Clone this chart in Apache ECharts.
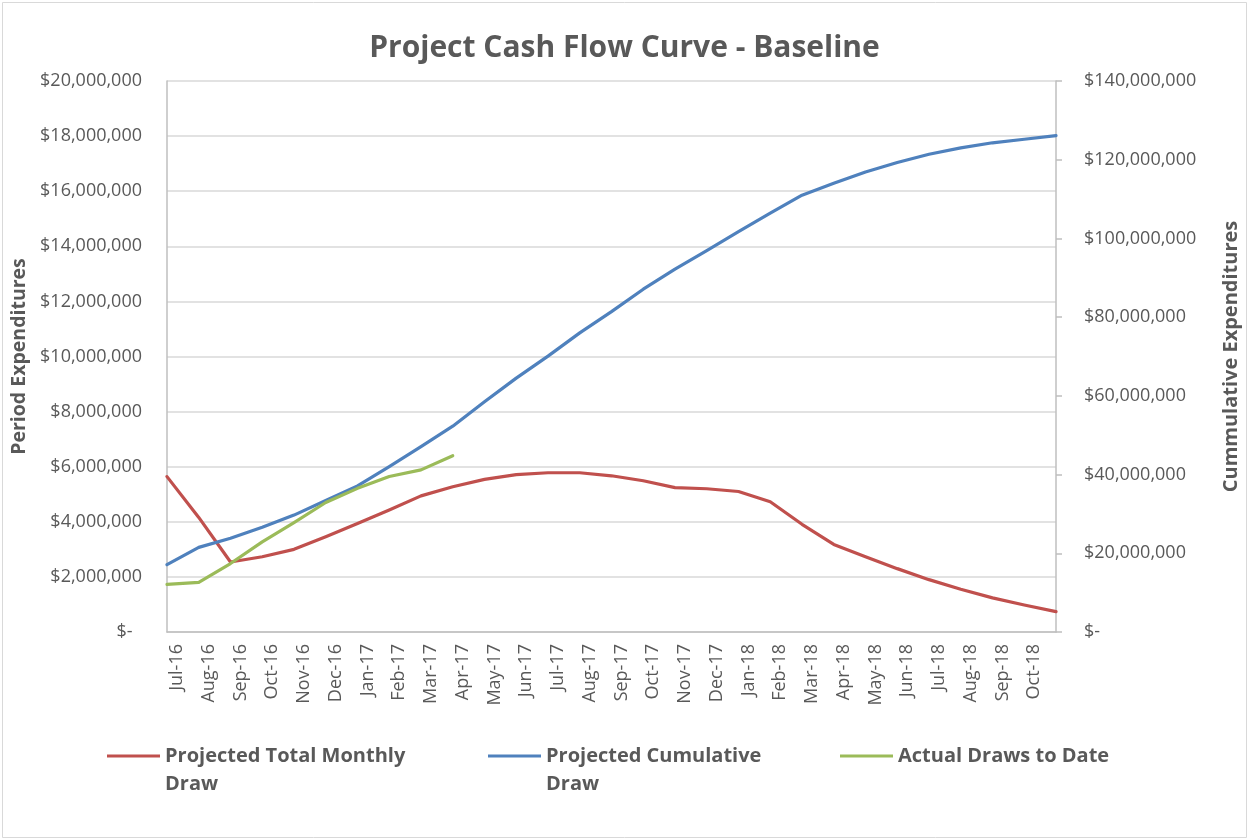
<!DOCTYPE html>
<html>
<head>
<meta charset="utf-8">
<script src="https://cdn.jsdelivr.net/npm/echarts@6/dist/echarts.min.js"></script>
<style>
  html, body { margin: 0; padding: 0; background: #ffffff; }
  #chart { width: 1249px; height: 840px; }
</style>
</head>
<body>
<div id="chart"></div>
<script>
// Category labels (the data carries one more point than there are labels; its label is blank)
const months = ['Jul-16','Aug-16','Sep-16','Oct-16','Nov-16','Dec-16','Jan-17','Feb-17','Mar-17','Apr-17',
  'May-17','Jun-17','Jul-17','Aug-17','Sep-17','Oct-17','Nov-17','Dec-17','Jan-18','Feb-18','Mar-18',
  'Apr-18','May-18','Jun-18','Jul-18','Aug-18','Sep-18','Oct-18',''];

// Projected Total Monthly Draw (left axis)
const monthlyDraw = [5640000, 4160000, 2540000, 2730000, 3000000, 3460000, 3940000, 4430000, 4940000, 5270000,
  5540000, 5710000, 5780000, 5780000, 5670000, 5490000, 5240000, 5200000, 5100000, 4730000, 3910000,
  3180000, 2730000, 2300000, 1900000, 1550000, 1240000, 980000, 740000];

// Projected Cumulative Draw (right axis)
const cumulativeDraw = [17100000, 21500000, 23800000, 26600000, 29700000, 33400000, 37100000, 42000000, 47100000, 52300000,
  58500000, 64500000, 70100000, 76000000, 81400000, 87100000, 92200000, 96900000, 101700000, 106400000, 111000000,
  114000000, 116900000, 119300000, 121400000, 123000000, 124300000, 125200000, 126100000];

// Actual Draws to Date (right axis)
const actualDraws = [12100000, 12600000, 17400000, 22900000, 27800000, 32900000, 36500000, 39500000, 41200000, 44800000];

const seriesNames = ['Projected Total Monthly Draw', 'Projected Cumulative Draw', 'Actual Draws to Date'];
// leading blank line keeps the icon level with the first text line
const legendLabels = ['\nProjected Total Monthly\nDraw', '\nProjected Cumulative\nDraw', 'Actual Draws to Date'];

const TXT = '#595959';
const FONT = '"Open Sans", "DejaVu Sans", sans-serif';

function money(v) {
  if (v === 0) return '$-  ';
  return '$' + v.toLocaleString('en-US');
}

const chart = echarts.init(document.getElementById('chart'), null, { renderer: 'canvas' });

function legendFor(i, left, top) {
  return {
    data: [seriesNames[i]],
    left: left,
    top: top,
    padding: 0,
    itemWidth: 53,
    itemHeight: 14,
    itemGap: 6,
    icon: 'path://M0,5.5L53,5.5L53,8.5L0,8.5Z',
    formatter: function () { return legendLabels[i]; },
    textStyle: {
      color: TXT, fontFamily: FONT, fontWeight: 'bold', fontSize: 20,
      lineHeight: 28
    },
    selectedMode: false
  };
}

const option = {
  animation: false,
  backgroundColor: '#ffffff',
  textStyle: { fontFamily: FONT },
  title: {
    text: 'Project Cash Flow Curve - Baseline',
    left: 'center',
    top: 28,
    textStyle: { color: TXT, fontFamily: FONT, fontWeight: 'bold', fontSize: 30 }
  },
  graphic: [{
    type: 'rect',
    shape: { x: 2.5, y: 2.5, width: 1244, height: 835 },
    style: { fill: 'none', stroke: '#d9d9d9', lineWidth: 1 },
    silent: true, z: -10
  }],
  legend: [
    legendFor(0, 107, 714),
    legendFor(1, 488, 714),
    legendFor(2, 840, 742)
  ],
  grid: { left: 167, right: 186, top: 81, bottom: 208, containLabel: false },
  xAxis: {
    type: 'category',
    data: months,
    boundaryGap: false,
    axisLine: { show: true, lineStyle: { color: '#bfbfbf', width: 1.5 } },
    axisTick: { show: false },
    axisLabel: {
      interval: 0, rotate: 90, margin: 12,
      verticalAlign: 'top', lineHeight: 20,
      color: TXT, fontFamily: FONT, fontSize: 18
    },
    splitLine: { show: false }
  },
  yAxis: [{
    type: 'value',
    min: 0, max: 20000000, interval: 2000000,
    name: 'Period Expenditures',
    nameLocation: 'middle',
    nameRotate: 90,
    nameGap: 136,
    nameTextStyle: { color: TXT, fontFamily: FONT, fontWeight: 'bold', fontSize: 19.5 },
    axisLine: { show: true, lineStyle: { color: '#bfbfbf', width: 1.5 } },
    axisTick: { show: false },
    axisLabel: { color: TXT, fontFamily: FONT, fontSize: 18, margin: 25, formatter: money },
    splitLine: { show: true, lineStyle: { color: '#d9d9d9', width: 1.5 } }
  }, {
    type: 'value',
    position: 'right',
    min: 0, max: 140000000, interval: 20000000,
    name: 'Cummulative Expenditures',
    nameLocation: 'middle',
    nameRotate: 90,
    nameGap: 165,
    nameTextStyle: { color: TXT, fontFamily: FONT, fontWeight: 'bold', fontSize: 20 },
    axisLine: { show: true, lineStyle: { color: '#bfbfbf', width: 1.5 } },
    axisTick: { show: true, length: 6, lineStyle: { color: '#bfbfbf', width: 1.5 } },
    axisLabel: { color: TXT, fontFamily: FONT, fontSize: 18, margin: 28, formatter: money },
    splitLine: { show: false }
  }],
  series: [{
    name: seriesNames[0],
    type: 'line',
    yAxisIndex: 0,
    data: monthlyDraw,
    showSymbol: false, symbol: 'none',
    lineStyle: { color: '#C0504D', width: 3.2, join: 'round', cap: 'round' },
    itemStyle: { color: '#C0504D' },
    z: 3
  }, {
    name: seriesNames[1],
    type: 'line',
    yAxisIndex: 1,
    data: cumulativeDraw,
    showSymbol: false, symbol: 'none',
    lineStyle: { color: '#4F81BD', width: 3.2, join: 'round', cap: 'round' },
    itemStyle: { color: '#4F81BD' },
    z: 4
  }, {
    name: seriesNames[2],
    type: 'line',
    yAxisIndex: 1,
    data: actualDraws,
    showSymbol: false, symbol: 'none',
    lineStyle: { color: '#9BBB59', width: 3.2, join: 'round', cap: 'round' },
    itemStyle: { color: '#9BBB59' },
    z: 5
  }]
};

chart.setOption(option);
</script>
</body>
</html>
